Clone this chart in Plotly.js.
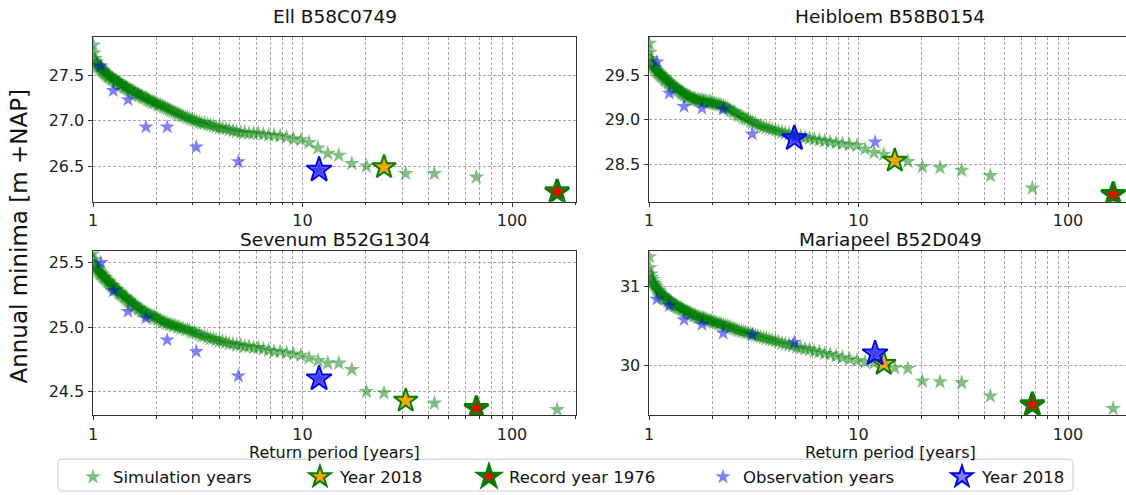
<!DOCTYPE html>
<html><head><meta charset="utf-8">
<script src="https://cdn.plot.ly/plotly-3.0.1.min.js"></script>
<style>html,body{margin:0;padding:0;background:#fff}#chart{width:1126px;height:495px}</style>
</head><body><div id="chart"></div>
<script>
// ---------------- DATA ----------------
const panelTitles = ['Ell B58C0749', 'Heibloem B58B0154', 'Sevenum B52G1304', 'Mariapeel B52D049'];

// return periods [years] of the ranked simulation years (shared by all wells)
const simReturnPeriod = [
  164.3, 67.6, 42.6, 31.1, 24.5, 20.2, 17.2, 14.9, 13.2, 11.86,
  10.75, 9.83, 9.06, 8.39, 7.82, 7.32, 6.89, 6.50, 6.15, 5.84,
  5.56, 5.30, 5.07, 4.85, 4.66, 4.47, 4.31, 4.15, 4.01, 3.87,
  3.75, 3.63, 3.52, 3.41, 3.31, 3.22, 3.13, 3.05, 2.97, 2.90,
  2.83, 2.76, 2.69, 2.63, 2.57, 2.52, 2.46, 2.41, 2.36, 2.31,
  2.27, 2.22, 2.18, 2.14, 2.10, 2.06, 2.03, 1.99, 1.96, 1.93,
  1.89, 1.86, 1.83, 1.81, 1.78, 1.75, 1.72, 1.70, 1.67, 1.65,
  1.63, 1.60, 1.58, 1.56, 1.54, 1.52, 1.50, 1.48, 1.46, 1.44,
  1.43, 1.41, 1.39, 1.37, 1.36, 1.34, 1.33, 1.31, 1.30, 1.28,
  1.27, 1.25, 1.24, 1.23, 1.21, 1.20, 1.19, 1.18, 1.165, 1.153,
  1.142, 1.131, 1.120, 1.108, 1.098, 1.088, 1.078, 1.067, 1.058, 1.048,
  1.038, 1.029, 1.020, 1.011, 1.003];

const ellSim = [
  26.22, 26.38, 26.42, 26.42, 26.49, 26.50, 26.53, 26.62, 26.64, 26.70,
  26.76, 26.79, 26.80, 26.82, 26.83, 26.84, 26.84, 26.85, 26.86, 26.86,
  26.86, 26.87, 26.87, 26.88, 26.89, 26.90, 26.91, 26.92, 26.92, 26.93,
  26.94, 26.95, 26.96, 26.97, 26.97, 26.98, 26.99, 27.00, 27.01, 27.02,
  27.03, 27.04, 27.05, 27.06, 27.07, 27.08, 27.09, 27.10, 27.11, 27.12,
  27.13, 27.14, 27.15, 27.16, 27.17, 27.17, 27.18, 27.19, 27.20, 27.20,
  27.21, 27.22, 27.23, 27.24, 27.25, 27.25, 27.26, 27.27, 27.28, 27.28,
  27.29, 27.30, 27.31, 27.31, 27.32, 27.33, 27.34, 27.34, 27.35, 27.36,
  27.37, 27.37, 27.38, 27.39, 27.40, 27.40, 27.41, 27.42, 27.43, 27.43,
  27.44, 27.45, 27.46, 27.46, 27.47, 27.48, 27.49, 27.49, 27.50, 27.51,
  27.52, 27.53, 27.54, 27.55, 27.56, 27.57, 27.58, 27.59, 27.60, 27.61,
  27.63, 27.65, 27.68, 27.74, 27.83];
const heibloemSim = [
  28.16, 28.23, 28.37, 28.43, 28.46, 28.47, 28.53, 28.54, 28.61, 28.63,
  28.67, 28.71, 28.72, 28.73, 28.74, 28.75, 28.76, 28.77, 28.78, 28.79,
  28.80, 28.81, 28.82, 28.83, 28.84, 28.85, 28.86, 28.87, 28.88, 28.89,
  28.90, 28.91, 28.92, 28.93, 28.94, 28.96, 28.97, 28.98, 29.00, 29.01,
  29.02, 29.04, 29.05, 29.06, 29.08, 29.09, 29.10, 29.12, 29.13, 29.14,
  29.15, 29.16, 29.17, 29.17, 29.18, 29.18, 29.19, 29.19, 29.20, 29.20,
  29.20, 29.21, 29.21, 29.21, 29.22, 29.22, 29.22, 29.22, 29.23, 29.23,
  29.24, 29.24, 29.25, 29.26, 29.26, 29.27, 29.28, 29.28, 29.29, 29.30,
  29.31, 29.32, 29.33, 29.34, 29.35, 29.35, 29.36, 29.37, 29.38, 29.39,
  29.40, 29.41, 29.42, 29.43, 29.44, 29.45, 29.46, 29.47, 29.48, 29.49,
  29.50, 29.51, 29.52, 29.53, 29.54, 29.55, 29.56, 29.58, 29.59, 29.61,
  29.63, 29.66, 29.69, 29.76, 29.86];
const sevenumSim = [
  24.36, 24.37, 24.41, 24.43, 24.49, 24.50, 24.67, 24.72, 24.72, 24.74,
  24.76, 24.78, 24.79, 24.80, 24.81, 24.81, 24.82, 24.83, 24.84, 24.84,
  24.85, 24.85, 24.86, 24.86, 24.87, 24.87, 24.88, 24.89, 24.89, 24.90,
  24.91, 24.91, 24.92, 24.93, 24.93, 24.94, 24.95, 24.96, 24.96, 24.97,
  24.98, 24.98, 24.99, 24.99, 25.00, 25.00, 25.01, 25.01, 25.02, 25.02,
  25.03, 25.03, 25.04, 25.04, 25.05, 25.06, 25.06, 25.07, 25.08, 25.08,
  25.09, 25.09, 25.10, 25.10, 25.11, 25.12, 25.12, 25.13, 25.14, 25.14,
  25.15, 25.16, 25.17, 25.17, 25.18, 25.19, 25.20, 25.20, 25.21, 25.22,
  25.23, 25.23, 25.24, 25.25, 25.26, 25.26, 25.27, 25.28, 25.29, 25.29,
  25.30, 25.31, 25.32, 25.32, 25.33, 25.34, 25.35, 25.35, 25.36, 25.37,
  25.38, 25.38, 25.39, 25.40, 25.41, 25.41, 25.42, 25.43, 25.44, 25.45,
  25.46, 25.47, 25.49, 25.52, 25.57];
const mariapeelSim = [
  29.45, 29.50, 29.61, 29.78, 29.79, 29.80, 29.96, 29.97, 30.02, 30.03,
  30.04, 30.06, 30.08, 30.10, 30.12, 30.14, 30.15, 30.17, 30.18, 30.20,
  30.21, 30.22, 30.23, 30.25, 30.26, 30.27, 30.28, 30.30, 30.31, 30.32,
  30.33, 30.34, 30.35, 30.36, 30.37, 30.38, 30.39, 30.40, 30.41, 30.42,
  30.43, 30.43, 30.44, 30.45, 30.46, 30.47, 30.48, 30.49, 30.50, 30.50,
  30.51, 30.52, 30.53, 30.53, 30.54, 30.55, 30.55, 30.56, 30.57, 30.57,
  30.58, 30.59, 30.59, 30.60, 30.60, 30.61, 30.61, 30.62, 30.63, 30.63,
  30.64, 30.65, 30.66, 30.66, 30.67, 30.68, 30.69, 30.69, 30.70, 30.71,
  30.72, 30.73, 30.73, 30.74, 30.75, 30.76, 30.76, 30.77, 30.78, 30.79,
  30.80, 30.81, 30.82, 30.83, 30.84, 30.85, 30.86, 30.87, 30.88, 30.89,
  30.90, 30.92, 30.93, 30.95, 30.96, 30.98, 31.00, 31.02, 31.04, 31.06,
  31.09, 31.12, 31.16, 31.24, 31.38];

// simulated year 2018 and record year 1976 (one value per well, order as panelTitles)
const sim2018Period = [24.5, 14.9, 31.1, 13.2];
const sim2018Level  = [26.49, 28.54, 24.43, 30.02];
const rec1976Period = [164.3, 164.3, 67.6, 67.6];
const rec1976Level  = [26.22, 28.16, 24.37, 29.50];

// observations
const obsReturnPeriod = [12.0, 4.94, 3.11, 2.26, 1.79, 1.47, 1.25, 1.09];
const ellObs       = [26.46, 26.55, 26.71, 26.93, 26.93, 27.23, 27.33, 27.60];
const heibloemObs  = [28.75, 28.79, 28.84, 29.12, 29.13, 29.15, 29.30, 29.65];
const sevenumObs   = [24.60, 24.62, 24.81, 24.90, 25.07, 25.12, 25.28, 25.50];
const mariapeelObs = [30.15, 30.29, 30.39, 30.41, 30.52, 30.58, 30.76, 30.84];

const obs2018Period = [12.0, 4.94, 12.0, 12.0];
const obs2018Level  = [26.46, 28.79, 24.60, 30.15];

const legendNames = ['Simulation years', 'Year 2018', 'Record year 1976', 'Observation years', 'Year 2018'];

// ---------------- LAYOUT HELPERS ----------------
const W = 1126, H = 495;
const px = x => x / W;
const py = y => 1 - y / H;

const simLevels = [ellSim, heibloemSim, sevenumSim, mariapeelSim];
const obsLevels = [ellObs, heibloemObs, sevenumObs, mariapeelObs];

const boxes = [
  {x0: 93, x1: 576, y0: 37, y1: 203, yr: [26.11, 27.92], dtick: 0.5, fmt: '.1f', right: false, ty: 17},
  {x0: 649, x1: 1126, y0: 37, y1: 203, yr: [28.076, 29.935], dtick: 0.5, fmt: '.1f', right: true, ty: 17},
  {x0: 93, x1: 576, y0: 253, y1: 418, yr: [24.315, 25.585], dtick: 0.5, fmt: '.1f', right: false, ty: 241},
  {x0: 649, x1: 1126, y0: 253, y1: 418, yr: [29.363, 31.448], dtick: 1, fmt: 'd', right: true, ty: 241}
];
const decadePx = 209.5;

const traces = [];
const layout = {
  width: W, height: H,
  margin: {l: 0, r: 0, t: 0, b: 0},
  paper_bgcolor: '#fff', plot_bgcolor: '#fff',
  font: {family: 'DejaVu Sans', size: 16, color: '#222'},
  showlegend: true,
  annotations: [], shapes: []
};

const gridDash = '3px,2px';
const gridCol = '#a8a8a8';

boxes.forEach((b, k) => {
  const n = k + 1;
  const xa = n === 1 ? 'x' : 'x' + n;
  const ya = n === 1 ? 'y' : 'y' + n;
  const xKey = n === 1 ? 'xaxis' : 'xaxis' + n;
  const yKey = n === 1 ? 'yaxis' : 'yaxis' + n;
  layout[xKey] = {
    type: 'log', domain: [px(b.x0), px(b.x1)], anchor: ya,
    range: [0, (b.x1 - b.x0) / decadePx],
    dtick: 1, tick0: 0,
    showgrid: true, gridcolor: gridCol, griddash: gridDash, gridwidth: 1,
    minor: {dtick: 'D1', showgrid: true, gridcolor: gridCol, griddash: gridDash, gridwidth: 1,
            ticks: 'outside', ticklen: 2.5, tickcolor: '#333'},
    ticks: 'outside', ticklen: 4, tickcolor: '#333',
    showline: true, linecolor: '#333', linewidth: 1, mirror: true,
    zeroline: false, tickfont: {size: 16, color: '#222'}
  };
  layout[yKey] = {
    domain: [py(b.y1), py(b.y0)], anchor: xa,
    range: b.yr, dtick: b.dtick, tick0: 0, tickformat: b.fmt,
    showgrid: true, gridcolor: gridCol, griddash: gridDash, gridwidth: 1,
    ticks: 'outside', ticklen: 4.5, tickcolor: '#333',
    showline: true, linecolor: '#333', linewidth: 1, mirror: !b.right,
    zeroline: false, tickfont: {size: 16, color: '#222'}
  };

  const first = k === 0;
  traces.push({
    x: simReturnPeriod, y: simLevels[k], xaxis: xa, yaxis: ya,
    type: 'scatter', mode: 'markers', name: legendNames[0], legend: 'legend',
    showlegend: first,
    marker: {symbol: 'star', size: 12, color: 'rgba(0,128,0,0.5)', line: {width: 0}}
  });
  traces.push({
    x: [sim2018Period[k]], y: [sim2018Level[k]], xaxis: xa, yaxis: ya,
    type: 'scatter', mode: 'markers', name: legendNames[1], legend: 'legend2',
    showlegend: first,
    marker: {symbol: 'star', size: 18, color: '#FFA500', line: {width: 2, color: '#008000'}}
  });
  traces.push({
    x: [rec1976Period[k]], y: [rec1976Level[k]], xaxis: xa, yaxis: ya,
    type: 'scatter', mode: 'markers', name: legendNames[2], legend: 'legend3',
    showlegend: first,
    marker: {symbol: 'star', size: 18, color: '#FF0000', line: {width: 3, color: '#008000'}}
  });
  traces.push({
    x: obsReturnPeriod, y: obsLevels[k], xaxis: xa, yaxis: ya,
    type: 'scatter', mode: 'markers', name: legendNames[3], legend: 'legend4',
    showlegend: first,
    marker: {symbol: 'star', size: 11.5, color: 'rgba(0,0,255,0.5)', line: {width: 0}}
  });
  traces.push({
    x: [obs2018Period[k]], y: [obs2018Level[k]], xaxis: xa, yaxis: ya,
    type: 'scatter', mode: 'markers', name: legendNames[4], legend: 'legend5',
    showlegend: first,
    marker: {symbol: 'star', size: 19, color: 'rgba(0,0,255,0.5)', line: {width: 2, color: '#0000FF'}}
  });

  // subplot title
  const cx = b.right ? (649 + 1131) / 2 : (b.x0 + b.x1) / 2;
  layout.annotations.push({
    text: panelTitles[k], xref: 'paper', yref: 'paper',
    x: px(cx), y: py(b.ty), xanchor: 'center', yanchor: 'middle',
    showarrow: false, font: {size: 18.5, color: '#111'}
  });
  if (k >= 2) {
    layout.annotations.push({
      text: 'Return period [years]', xref: 'paper', yref: 'paper',
      x: px(cx), y: py(455), xanchor: 'center', yanchor: 'middle',
      showarrow: false, font: {size: 16, color: '#111'}
    });
  }
});

layout.annotations.push({
  text: 'Annual minima [m +NAP]', xref: 'paper', yref: 'paper',
  x: px(19), y: py(238), xanchor: 'center', yanchor: 'middle', textangle: -90,
  showarrow: false, font: {size: 23, color: '#111'}
});

// legend entries placed individually in one framed row
const legendTextStart = [113, 340, 509, 743, 982];
const legKeys = ['legend', 'legend2', 'legend3', 'legend4', 'legend5'];
legKeys.forEach((key, i) => {
  layout[key] = {
    x: px(legendTextStart[i] - 40), xanchor: 'left',
    y: py(480), yanchor: 'middle', orientation: 'h',
    bgcolor: 'rgba(0,0,0,0)', borderwidth: 0,
    font: {size: 16.5, color: '#111'}, itemsizing: 'trace'
  };
});

// rounded legend frame
(function () {
  const x0 = 58, x1 = 1073, y0 = 462, y1 = 494, r = 4;
  const P = (x, y) => px(x) + ',' + py(y);
  const d = 'M' + P(x0 + r, y0) + ' L' + P(x1 - r, y0) + ' Q' + P(x1, y0) + ' ' + P(x1, y0 + r) +
    ' L' + P(x1, y1 - r) + ' Q' + P(x1, y1) + ' ' + P(x1 - r, y1) +
    ' L' + P(x0 + r, y1) + ' Q' + P(x0, y1) + ' ' + P(x0, y1 - r) +
    ' L' + P(x0, y0 + r) + ' Q' + P(x0, y0) + ' ' + P(x0 + r, y0) + ' Z';
  layout.shapes.push({type: 'path', xref: 'paper', yref: 'paper', path: d,
    line: {color: '#cccccc', width: 1}, fillcolor: 'rgba(255,255,255,0.8)', layer: 'below'});
})();

Plotly.newPlot('chart', traces, layout, {displayModeBar: false, staticPlot: true});
</script>
</body></html>
